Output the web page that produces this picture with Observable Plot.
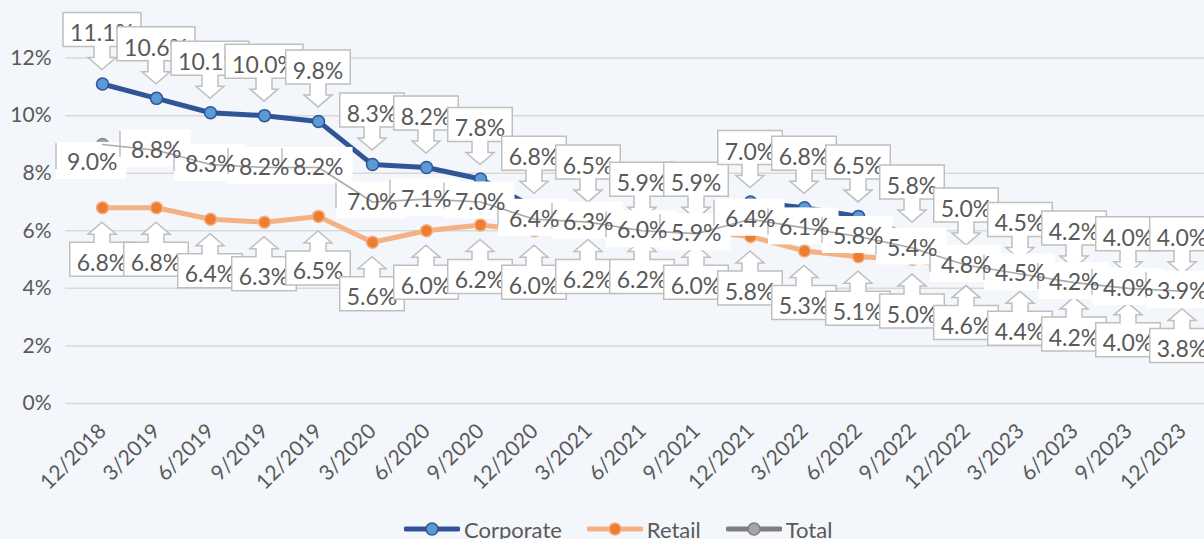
<!DOCTYPE html>
<html><head><meta charset="utf-8">
<script src="https://cdn.jsdelivr.net/npm/d3@7"></script>
<script src="https://cdn.jsdelivr.net/npm/@observablehq/plot@0.6"></script>
<style>
html,body{margin:0;padding:0;background:#F3F6FA;overflow:hidden;}
#chart{position:relative;width:1204px;height:539px;}
.legend{position:absolute;top:509px;left:404px;height:40px;display:flex;align-items:center;font-family:Lato,"Open Sans",sans-serif;font-size:22px;color:#595959;white-space:nowrap;}
.legend .item{display:flex;align-items:center;margin-right:25px;}
.legend svg{margin-right:4px;}
</style></head><body><div id="chart"></div>
<script>
const categories = ["12/2018","3/2019","6/2019","9/2019","12/2019","3/2020","6/2020","9/2020","12/2020","3/2021","6/2021","9/2021","12/2021","3/2022","6/2022","9/2022","12/2022","3/2023","6/2023","9/2023","12/2023"];
const corporate = [11.1,10.6,10.1,10.0,9.8,8.3,8.2,7.8,6.8,6.5,5.9,5.9,7.0,6.8,6.5,5.8,5.0,4.5,4.2,4.0,4.0];
const retail    = [6.8,6.8,6.4,6.3,6.5,5.6,6.0,6.2,6.0,6.2,6.2,6.0,5.8,5.3,5.1,5.0,4.6,4.4,4.2,4.0,3.8];
const total     = [9.0,8.8,8.3,8.2,8.2,7.0,7.1,7.0,6.4,6.3,6.0,5.9,6.4,6.1,5.8,5.4,4.8,4.5,4.2,4.0,3.9];
const yTicks = [0,2,4,6,8,10,12];
const seriesNames = ["Corporate","Retail","Total"];

const FONT = "Lato, 'Open Sans', sans-serif";
const FS = 23;
const TEXT = "#595959";
const BORDER = "#BFBFBF";
const C = {
  corpLine:"#2F5597", corpFill:"#5B9BD5",
  retLine:"#F4B183", retFill:"#ED7D31",
  totLine:"#7F7F7F", totFill:"#A5A5A5"
};

const rows = categories.map((c,i)=>({cat:c, corporate:corporate[i], retail:retail[i], total:total[i]}));
const ctx = document.createElement("canvas").getContext("2d");
ctx.font = FS + "px Lato";
const tw = s => ctx.measureText(s).width;
const fmt = v => v.toFixed(1) + "%";

// callouts: dir = -1 box above, arrow pointing down; dir = +1 box below, arrow up
function callouts(values, dir) {
  return (index, scales) => {
    const g = d3.create("svg:g");
    values.forEach((v,i)=>{
      const px = scales.x(categories[i]), py = scales.y(v);
      const label = fmt(v);
      const w = tw(label) + 14, L = px - w/2, R = px + w/2;
      let T, B, HB, tip, base;
      if (dir < 0) { T = py-71; B = py-37; HB = py-26; tip = py-14; base = py-42;
        g.append("path").attr("d",`M${L},${T}H${R}V${B}H${px+8}V${HB}H${px+14}L${px},${tip}L${px-14},${HB}H${px-8}V${B}H${L}Z`)
          .attr("fill","#fff").attr("stroke",BORDER).attr("stroke-width",1.5);
      } else { T = py+35; B = py+69; HB = py+27; tip = py+15; base = py+63.5;
        g.append("path").attr("d",`M${L},${B}H${R}V${T}H${px+8}V${HB}H${px+14}L${px},${tip}L${px-14},${HB}H${px-8}V${T}H${L}Z`)
          .attr("fill","#fff").attr("stroke",BORDER).attr("stroke-width",1.5);
      }
      g.append("text").attr("x",px).attr("y",base).attr("text-anchor","middle")
        .attr("font-family",FONT).attr("font-size",FS).attr("fill",TEXT).text(label);
    });
    return g.node();
  };
}

const totOff = i => i === 0 ? [-10, 18] : [0, 0];
function totalBoxes(index, scales) {
  const g = d3.create("svg:g");
  total.forEach((v,i)=>{
    const [dx,dy] = totOff(i);
    const px = scales.x(categories[i]) + dx, py = scales.y(v) + dy;
    const w = tw(fmt(v)) + 20, L = px - 36, T = py - 20;
    g.append("rect").attr("x",L).attr("y",T).attr("width",w).attr("height",37).attr("fill","#fff");
    g.append("line").attr("x1",L).attr("x2",L).attr("y1",T+1).attr("y2",T+27).attr("stroke",BORDER).attr("stroke-width",1.5);
  });
  return g.node();
}
function totalTexts(index, scales) {
  const g = d3.create("svg:g");
  total.forEach((v,i)=>{
    const [dx,dy] = totOff(i);
    const label = fmt(v);
    const px = scales.x(categories[i]) + dx, py = scales.y(v) + dy;
    const L = px - 36, w = tw(label) + 20;
    g.append("text").attr("x",L + w/2 + 1).attr("y",py+8).attr("text-anchor","middle")
      .attr("font-family",FONT).attr("font-size",FS).attr("fill",TEXT).text(label);
  });
  return g.node();
}

const chart = Plot.plot({
  width: 1204, height: 512,
  marginLeft: 65, marginRight: 0, marginTop: 0, marginBottom: 109,
  style: {background:"#F3F6FA", fontFamily: FONT, fontSize:"21px", color: TEXT, overflow:"visible"},
  x: {type:"point", domain: categories, range:[100,1184], padding:0, label:null},
  y: {domain:[0,14], label:null},
  marks: [
    Plot.gridY(yTicks, {stroke:"#D9D9D9", strokeOpacity:1, strokeWidth:1.5}),
    Plot.axisY(yTicks, {tickFormat: d => d + "%", tickSize:0, tickPadding:14, fontSize:21, fill:TEXT, label:null}),
    Plot.axisX({tickRotate:-45, tickSize:0, tickPadding:24, fontSize:21, fill:TEXT, label:null}),
    Plot.line(rows, {x:"cat", y:"corporate", stroke:C.corpLine, strokeWidth:5}),
    Plot.line(rows, {x:"cat", y:"retail", stroke:C.retLine, strokeWidth:5}),
    Plot.dot(rows, {x:"cat", y:"corporate", r:6, fill:C.corpFill, stroke:C.corpLine, strokeWidth:1.5}),
    Plot.dot(rows, {x:"cat", y:"retail", r:6, fill:C.retFill, stroke:C.retLine, strokeWidth:1.5}),
    Plot.dot(rows, {x:"cat", y:"total", r:6, fill:C.totFill, stroke:"#8C8C8C", strokeWidth:1.5}),
    callouts(corporate, -1),
    callouts(retail, 1),
    totalBoxes,
    Plot.line(rows, {x:"cat", y:"total", stroke:"#ABABAB", strokeWidth:1.6}),
    totalTexts
  ]
});
const root = document.getElementById("chart");
root.appendChild(chart);

const legendColors = [[C.corpLine,C.corpFill],[C.retLine,C.retFill],[C.totLine,C.totFill]];
const lg = document.createElement("div");
lg.className = "legend";
seriesNames.forEach((n,i)=>{
  const [ln, fl] = legendColors[i];
  const it = document.createElement("div"); it.className = "item";
  it.innerHTML = `<svg width="56" height="16"><line x1="2" x2="54" y1="8" y2="8" stroke="${ln}" stroke-width="5" stroke-linecap="round"/><circle cx="28" cy="8" r="6" fill="${fl}" stroke="${ln}" stroke-width="1.5"/></svg><span>${n}</span>`;
  lg.appendChild(it);
});
root.appendChild(lg);
</script>
</body></html>
